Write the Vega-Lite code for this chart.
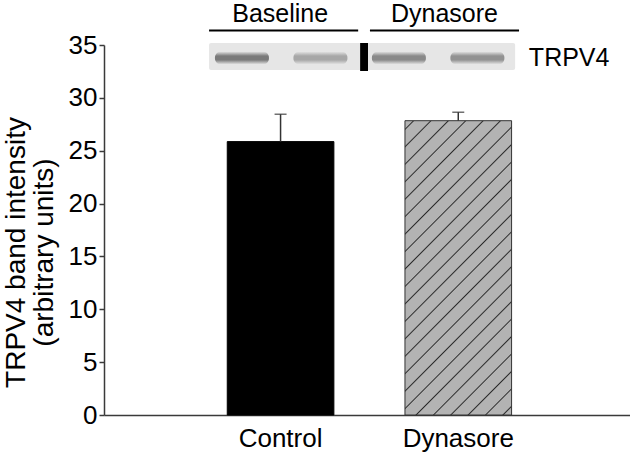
{
  "$schema": "https://vega.github.io/schema/vega-lite/v6.json",
  "width": 526,
  "height": 370,
  "autosize": {"type": "none"},
  "padding": {"left": 104, "top": 45, "right": 0, "bottom": 37},
  "background": "#ffffff",
  "config": {"view": {"stroke": null}, "font": "Liberation Sans"},
  "datasets": {
    "bars": [
      {"group": "Control", "mean": 25.86, "upper": 28.45},
      {"group": "Dynasore", "mean": 27.84, "upper": 28.64}
    ],
    "lanes": [
      {"lane": 1, "condition": "Baseline", "intensity": 0.72},
      {"lane": 2, "condition": "Baseline", "intensity": 0.42},
      {"lane": 3, "condition": "Dynasore", "intensity": 0.62},
      {"lane": 4, "condition": "Dynasore", "intensity": 0.56}
    ]
  },
  "resolve": {"scale": {"x": "independent"}},
  "layer": [
    {
      "data": {"name": "bars"},
      "encoding": {
        "x": {
          "field": "group", "type": "nominal", "sort": ["Control", "Dynasore"],
          "scale": {"domain": ["Control", "Dynasore"], "paddingInner": 0.4, "paddingOuter": 0.68, "align": 0.51},
          "axis": {"title": null, "labelAngle": 0, "labelFontSize": 26, "labelColor": "#000000", "labelBaseline": "alphabetic", "labelPadding": 31, "ticks": false, "tickSize": 0, "domainColor": "#3a3a3a", "domainWidth": 1.5}
        }
      },
      "layer": [
        {
          "transform": [{"filter": "datum.group === 'Control'"}],
          "mark": {"type": "bar", "fill": "#000000", "stroke": "#000000", "strokeWidth": 1},
          "encoding": {
            "y": {
              "field": "mean", "type": "quantitative",
              "scale": {"domain": [0, 35], "nice": false},
              "axis": {
                "values": [0, 5, 10, 15, 20, 25, 30, 35], "grid": false,
                "labelFontSize": 26, "labelColor": "#000000", "labelPadding": 2,
                "tickSize": 5, "tickWidth": 1.5, "tickColor": "#3a3a3a",
                "domainColor": "#3a3a3a", "domainWidth": 1.5,
                "title": ["TRPV4 band intensity", "(arbitrary units)"],
                "titleFontSize": 28, "titleFontWeight": "normal", "titleColor": "#000000",
                "titleAngle": -90, "titleX": -102, "titleY": 207, "titleAlign": "center", "titleBaseline": "top", "titleLineHeight": 28
              }
            }
          }
        },
        {
          "transform": [{"filter": "datum.group === 'Dynasore'"}],
          "mark": {
            "type": "bar", "stroke": "#333333", "strokeWidth": 1,
            "fill": {
              "gradient": "linear", "x1": 0, "y1": 0, "x2": 0.4384, "y2": 1.2044,
              "stops": [
                {"offset": 0, "color": "#b3b3b3"},
                {"offset": 0.0182, "color": "#b3b3b3"}, {"offset": 0.0217, "color": "#2b2b2b"}, {"offset": 0.0252, "color": "#b3b3b3"},
                {"offset": 0.0617, "color": "#b3b3b3"}, {"offset": 0.0652, "color": "#2b2b2b"}, {"offset": 0.0687, "color": "#b3b3b3"},
                {"offset": 0.1052, "color": "#b3b3b3"}, {"offset": 0.1087, "color": "#2b2b2b"}, {"offset": 0.1122, "color": "#b3b3b3"},
                {"offset": 0.1487, "color": "#b3b3b3"}, {"offset": 0.1522, "color": "#2b2b2b"}, {"offset": 0.1557, "color": "#b3b3b3"},
                {"offset": 0.1922, "color": "#b3b3b3"}, {"offset": 0.1957, "color": "#2b2b2b"}, {"offset": 0.1992, "color": "#b3b3b3"},
                {"offset": 0.2356, "color": "#b3b3b3"}, {"offset": 0.2391, "color": "#2b2b2b"}, {"offset": 0.2426, "color": "#b3b3b3"},
                {"offset": 0.2791, "color": "#b3b3b3"}, {"offset": 0.2826, "color": "#2b2b2b"}, {"offset": 0.2861, "color": "#b3b3b3"},
                {"offset": 0.3226, "color": "#b3b3b3"}, {"offset": 0.3261, "color": "#2b2b2b"}, {"offset": 0.3296, "color": "#b3b3b3"},
                {"offset": 0.3661, "color": "#b3b3b3"}, {"offset": 0.3696, "color": "#2b2b2b"}, {"offset": 0.3731, "color": "#b3b3b3"},
                {"offset": 0.4095, "color": "#b3b3b3"}, {"offset": 0.4130, "color": "#2b2b2b"}, {"offset": 0.4165, "color": "#b3b3b3"},
                {"offset": 0.4530, "color": "#b3b3b3"}, {"offset": 0.4565, "color": "#2b2b2b"}, {"offset": 0.4600, "color": "#b3b3b3"},
                {"offset": 0.4965, "color": "#b3b3b3"}, {"offset": 0.5000, "color": "#2b2b2b"}, {"offset": 0.5035, "color": "#b3b3b3"},
                {"offset": 0.5400, "color": "#b3b3b3"}, {"offset": 0.5435, "color": "#2b2b2b"}, {"offset": 0.5470, "color": "#b3b3b3"},
                {"offset": 0.5835, "color": "#b3b3b3"}, {"offset": 0.5870, "color": "#2b2b2b"}, {"offset": 0.5905, "color": "#b3b3b3"},
                {"offset": 0.6269, "color": "#b3b3b3"}, {"offset": 0.6304, "color": "#2b2b2b"}, {"offset": 0.6339, "color": "#b3b3b3"},
                {"offset": 0.6704, "color": "#b3b3b3"}, {"offset": 0.6739, "color": "#2b2b2b"}, {"offset": 0.6774, "color": "#b3b3b3"},
                {"offset": 0.7139, "color": "#b3b3b3"}, {"offset": 0.7174, "color": "#2b2b2b"}, {"offset": 0.7209, "color": "#b3b3b3"},
                {"offset": 0.7574, "color": "#b3b3b3"}, {"offset": 0.7609, "color": "#2b2b2b"}, {"offset": 0.7644, "color": "#b3b3b3"},
                {"offset": 0.8009, "color": "#b3b3b3"}, {"offset": 0.8044, "color": "#2b2b2b"}, {"offset": 0.8079, "color": "#b3b3b3"},
                {"offset": 0.8443, "color": "#b3b3b3"}, {"offset": 0.8478, "color": "#2b2b2b"}, {"offset": 0.8513, "color": "#b3b3b3"},
                {"offset": 0.8878, "color": "#b3b3b3"}, {"offset": 0.8913, "color": "#2b2b2b"}, {"offset": 0.8948, "color": "#b3b3b3"},
                {"offset": 0.9313, "color": "#b3b3b3"}, {"offset": 0.9348, "color": "#2b2b2b"}, {"offset": 0.9383, "color": "#b3b3b3"},
                {"offset": 0.9748, "color": "#b3b3b3"}, {"offset": 0.9783, "color": "#2b2b2b"}, {"offset": 0.9818, "color": "#b3b3b3"},
                {"offset": 1, "color": "#b3b3b3"}
              ]
            }
          },
          "encoding": {
            "y": {"field": "mean", "type": "quantitative", "scale": {"domain": [0, 35], "nice": false}}
          }
        },
        {
          "mark": {"type": "rule", "color": "#333333", "strokeWidth": 1.5},
          "encoding": {
            "y": {"field": "mean", "type": "quantitative", "scale": {"domain": [0, 35], "nice": false}},
            "y2": {"field": "upper"}
          }
        },
        {
          "mark": {"type": "tick", "color": "#333333", "thickness": 1.5, "size": 12, "orient": "horizontal"},
          "encoding": {
            "y": {"field": "upper", "type": "quantitative", "scale": {"domain": [0, 35], "nice": false}}
          }
        }
      ]
    },
    {
      "data": {"values": [{}]},
      "layer": [
        {
          "mark": {"type": "rect", "fill": "#e6e6e6", "cornerRadius": 2},
          "encoding": {
            "x": {"datum": 0.581, "type": "quantitative", "scale": {"domain": [-0.694, 5.881], "nice": false, "zero": false}, "axis": null},
            "x2": {"datum": 4.481},
            "y": {"datum": 35.19, "type": "quantitative", "scale": {"domain": [0, 35], "nice": false}},
            "y2": {"datum": 32.64}
          }
        },
        {
          "data": {"name": "lanes"},
          "mark": {
            "type": "bar", "width": 54, "cornerRadius": 6,
            "fill": {
              "gradient": "linear", "x1": 0, "y1": 0, "x2": 0, "y2": 1,
              "stops": [
                {"offset": 0, "color": "rgba(80,80,80,0)"},
                {"offset": 0.35, "color": "rgba(80,80,80,1)"},
                {"offset": 0.65, "color": "rgba(80,80,80,1)"},
                {"offset": 1, "color": "rgba(80,80,80,0)"}
              ]
            }
          },
          "encoding": {
            "x": {"field": "lane", "type": "quantitative", "scale": {"domain": [-0.694, 5.881], "nice": false, "zero": false}, "axis": null},
            "y": {"datum": 34.39, "type": "quantitative", "scale": {"domain": [0, 35], "nice": false}},
            "y2": {"datum": 33.16},
            "opacity": {"field": "intensity", "type": "quantitative", "scale": {"domain": [0, 1], "range": [0, 1]}, "legend": null}
          }
        },
        {
          "mark": {"type": "rect", "fill": "#000000"},
          "encoding": {
            "x": {"datum": 2.506, "type": "quantitative", "scale": {"domain": [-0.694, 5.881], "nice": false, "zero": false}, "axis": null},
            "x2": {"datum": 2.606},
            "y": {"datum": 35.19, "type": "quantitative", "scale": {"domain": [0, 35], "nice": false}},
            "y2": {"datum": 32.54}
          }
        },
        {
          "mark": {"type": "rule", "color": "#000000", "strokeWidth": 2},
          "encoding": {
            "x": {"datum": 0.581, "type": "quantitative", "scale": {"domain": [-0.694, 5.881], "nice": false, "zero": false}, "axis": null},
            "x2": {"datum": 2.481},
            "y": {"datum": 36.37, "type": "quantitative", "scale": {"domain": [0, 35], "nice": false}}
          }
        },
        {
          "mark": {"type": "rule", "color": "#000000", "strokeWidth": 2},
          "encoding": {
            "x": {"datum": 2.631, "type": "quantitative", "scale": {"domain": [-0.694, 5.881], "nice": false, "zero": false}, "axis": null},
            "x2": {"datum": 4.531},
            "y": {"datum": 36.37, "type": "quantitative", "scale": {"domain": [0, 35], "nice": false}}
          }
        },
        {
          "mark": {"type": "text", "text": "Baseline", "fontSize": 25, "align": "center", "baseline": "alphabetic", "color": "#000000"},
          "encoding": {
            "x": {"datum": 1.487, "type": "quantitative", "scale": {"domain": [-0.694, 5.881], "nice": false, "zero": false}, "axis": null},
            "y": {"datum": 37.15, "type": "quantitative", "scale": {"domain": [0, 35], "nice": false}}
          }
        },
        {
          "mark": {"type": "text", "text": "Dynasore", "fontSize": 25, "align": "center", "baseline": "alphabetic", "color": "#000000"},
          "encoding": {
            "x": {"datum": 3.581, "type": "quantitative", "scale": {"domain": [-0.694, 5.881], "nice": false, "zero": false}, "axis": null},
            "y": {"datum": 37.15, "type": "quantitative", "scale": {"domain": [0, 35], "nice": false}}
          }
        },
        {
          "mark": {"type": "text", "text": "TRPV4", "fontSize": 25, "align": "left", "baseline": "alphabetic", "color": "#000000"},
          "encoding": {
            "x": {"datum": 4.656, "type": "quantitative", "scale": {"domain": [-0.694, 5.881], "nice": false, "zero": false}, "axis": null},
            "y": {"datum": 33.01, "type": "quantitative", "scale": {"domain": [0, 35], "nice": false}}
          }
        }
      ]
    }
  ]
}
